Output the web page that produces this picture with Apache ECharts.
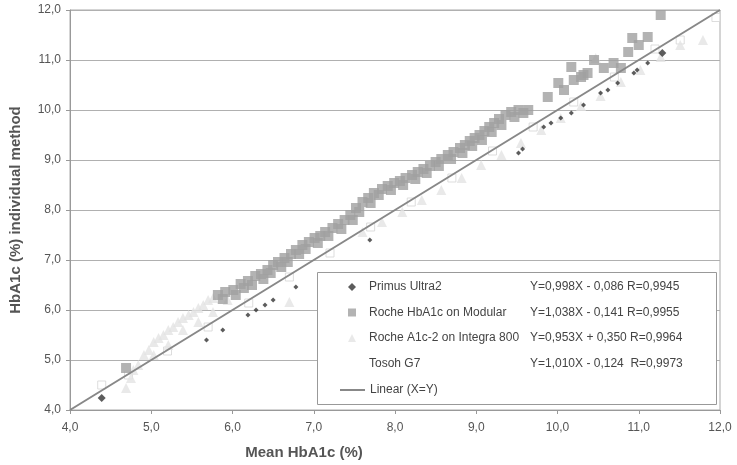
<!DOCTYPE html>
<html><head><meta charset="utf-8">
<script src="https://cdn.jsdelivr.net/npm/echarts@6/dist/echarts.min.js"></script>
<style>html,body{margin:0;padding:0;background:#fff}#c{width:737px;height:465px}</style>
</head><body><div id="c"></div>
<script>
const seriesNames = ['Primus Ultra2','Roche HbA1c on Modular','Roche A1c-2 on Integra 800','Tosoh G7','Linear (X=Y)'];
const equations = ['Y=0,998X - 0,086 R=0,9945','Y=1,038X - 0,141 R=0,9955','Y=0,953X + 0,350 R=0,9964','Y=1,010X - 0,124  R=0,9973',''];
const xAxisTitle = 'Mean HbA1c (%)';
const yAxisTitle = 'HbA1c (%) individual method';

const primusPts = [[4.39,4.24],[5.68,5.40],[5.88,5.60],[6.19,5.90],[6.29,6.00],[6.40,6.10],[6.50,6.20],[6.78,6.46],[7.69,7.40],[9.52,9.14],[9.57,9.22],[9.83,9.66],[9.92,9.74],[10.04,9.84],[10.17,9.94],[10.32,10.10],[10.53,10.34],[10.62,10.40],[10.74,10.54],[10.94,10.74],[10.98,10.80],[11.11,10.94],[11.29,11.14]];

const modularPts = [[4.69,4.84],
[5.82,6.30],[5.88,6.22],[5.91,6.36],[6.01,6.40],[6.04,6.30],[6.10,6.52],[6.14,6.44],[6.19,6.58],[6.24,6.50],[6.28,6.68],[6.35,6.72],[6.38,6.62],[6.43,6.80],[6.47,6.74],[6.50,6.90],[6.56,6.96],[6.60,6.86],[6.64,7.04],[6.68,6.96],[6.72,7.12],[6.78,7.20],[6.82,7.12],[6.86,7.30],[6.90,7.22],[6.94,7.36],[7.01,7.44],[7.05,7.34],[7.08,7.48],[7.14,7.56],[7.18,7.48],[7.23,7.64],[7.30,7.72],[7.34,7.62],[7.38,7.80],[7.45,7.90],[7.48,7.80],[7.52,8.04],[7.56,7.96],[7.60,8.16],[7.67,8.24],[7.70,8.14],[7.74,8.34],[7.80,8.30],[7.84,8.42],[7.91,8.48],[7.95,8.40],[7.99,8.54],[8.06,8.58],[8.10,8.50],[8.13,8.64],[8.21,8.70],[8.25,8.62],[8.28,8.76],[8.35,8.82],[8.39,8.74],[8.43,8.88],
[8.50,8.96],[8.54,8.88],[8.57,9.02],[8.65,9.10],[8.69,9.02],[8.72,9.16],[8.80,9.24],[8.83,9.14],[8.86,9.30],[8.92,9.38],[8.95,9.28],[8.98,9.44],[9.04,9.50],[9.07,9.40],[9.10,9.58],[9.16,9.66],[9.19,9.56],[9.22,9.74],[9.28,9.82],[9.31,9.70],[9.36,9.90],[9.43,9.96],[9.47,9.86],[9.52,10.00],[9.58,9.94],[9.64,10.00],
[9.88,10.26],[10.01,10.54],[10.08,10.40],[10.17,10.86],[10.20,10.60],[10.29,10.66],[10.32,10.70],[10.37,10.74],[10.45,11.00],[10.57,10.84],[10.69,10.94],[10.78,10.84],[10.87,11.16],[10.92,11.44],[11.00,11.30],[11.11,11.46],[11.27,11.90]];

const integraPts = [[4.69,4.44],[4.75,4.64],[4.78,4.80],[4.84,4.90],[4.91,5.10],[4.97,5.20],[5.03,5.36],[5.03,5.10],[5.09,5.44],[5.15,5.50],[5.21,5.60],[5.21,5.30],[5.27,5.66],[5.33,5.76],[5.39,5.84],[5.39,5.60],[5.46,5.90],[5.52,5.96],[5.58,6.04],[5.58,5.76],[5.64,6.10],[5.70,6.20],[5.76,6.24],[5.76,5.96],[5.94,6.20],[6.70,6.16],
[7.60,7.56],[7.84,7.76],[8.09,7.96],[8.33,8.20],[8.57,8.40],[8.82,8.64],[9.06,8.90],[9.31,9.10],[9.55,9.34],[9.80,9.60],[10.04,9.84],[10.29,10.08],[10.47,11.04],[10.53,10.28],[10.78,10.56],[11.02,10.80],[11.27,11.06],[11.51,11.30],[11.79,11.40]];

const tosohPts = [[4.39,4.50],[4.72,4.70],[5.20,5.18],[5.70,5.66],[6.20,6.14],[6.70,6.66],[7.20,7.14],[7.70,7.66],[8.20,8.16],[8.70,8.64],[9.20,9.18],[9.70,9.66],[10.20,10.16],[10.70,10.66],[11.20,11.22],[11.51,11.40],[11.95,11.85]];

const linePts = [[4,4],[12,12]];

const fmt = v => v.toFixed(1).replace('.', ',');
const eqMap = {};
seriesNames.forEach((n,i)=>eqMap[n]=equations[i]);
const FONT = '"Liberation Sans", Arial, sans-serif';
const legendText = {color:'#444',fontSize:12,lineHeight:12,fontFamily:FONT,
  rich:{a:{width:161,fontSize:12,color:'#444',fontFamily:FONT},b:{width:185,fontSize:12,color:'#444',fontFamily:FONT}}};

const chart = echarts.init(document.getElementById('c'), null, {renderer:'canvas'});
chart.setOption({
  animation:false,
  textStyle:{fontFamily:FONT},
  grid:{left:66,right:17,top:10,bottom:55,show:true,borderColor:'#aaa',borderWidth:1},
  xAxis:{type:'value',min:4,max:12,interval:1,
    axisLine:{lineStyle:{color:'#999'}},axisTick:{show:true,length:4,lineStyle:{color:'#999'}},
    axisLabel:{formatter:fmt,color:'#555',fontSize:12,margin:12},splitLine:{show:false}},
  yAxis:{type:'value',min:4,max:12,interval:1,
    name:yAxisTitle,nameLocation:'middle',nameGap:47,
    nameTextStyle:{fontSize:15,fontWeight:'bold',color:'#555'},
    axisLine:{show:true,lineStyle:{color:'#999'}},axisTick:{show:true,length:4,lineStyle:{color:'#999'}},
    axisLabel:{formatter:fmt,color:'#555',fontSize:12,margin:9},
    splitLine:{show:true,lineStyle:{color:'#b0b0b0',width:1}}},
  graphic:[
    {type:'text',x:304,y:453,z:10,style:{text:xAxisTitle,font:'bold 15px '+FONT,fill:'#555',textAlign:'center',textVerticalAlign:'middle'}},
    {type:'rect',z:50,shape:{x:317.5,y:272.5,width:399,height:132},style:{fill:'#fff',stroke:'#999',lineWidth:1}}
  ],
  legend:[
    {orient:'vertical',left:348,top:281,padding:0,itemWidth:8,itemHeight:8,itemGap:13.5,z:60,
     data:[{name:seriesNames[0],icon:'diamond'},{name:seriesNames[1],icon:'rect'},{name:seriesNames[2],icon:'triangle'},{name:seriesNames[3],icon:'none'}],
     formatter:n=>'{a|'+n+'}{b|'+eqMap[n]+'}',
     textStyle:{...legendText,padding:[0,0,0,8]}},
    {orient:'vertical',left:340,top:384,padding:0,itemWidth:25,itemHeight:12,z:60,
     data:[{name:seriesNames[4],icon:'path://M0,0 L25,0 L25,2 L0,2 Z'}],
     textStyle:{color:'#444',fontSize:12,fontFamily:FONT}}
  ],
  series:[
    {name:seriesNames[3],type:'scatter',data:tosohPts,symbol:'rect',symbolSize:8,itemStyle:{color:'#fff',borderColor:'#d4d4d4',borderWidth:1},z:2},
    {name:seriesNames[2],type:'scatter',data:integraPts,symbol:'triangle',symbolSize:10,itemStyle:{color:'#e4e4e4'},z:3},
    {name:seriesNames[1],type:'scatter',data:modularPts,symbol:'rect',symbolSize:10,itemStyle:{color:'#a0a0a0'},z:4},
    {name:seriesNames[0],type:'scatter',data:primusPts,symbol:'diamond',symbolSize:(v,p)=>(p.dataIndex===0||p.dataIndex===primusPts.length-1)?8:5,itemStyle:{color:'#333'},z:5},
    {name:seriesNames[4],type:'line',data:linePts,symbol:'none',lineStyle:{color:'#888',width:2},itemStyle:{color:'#888'},z:6}
  ]
});
</script></body></html>
